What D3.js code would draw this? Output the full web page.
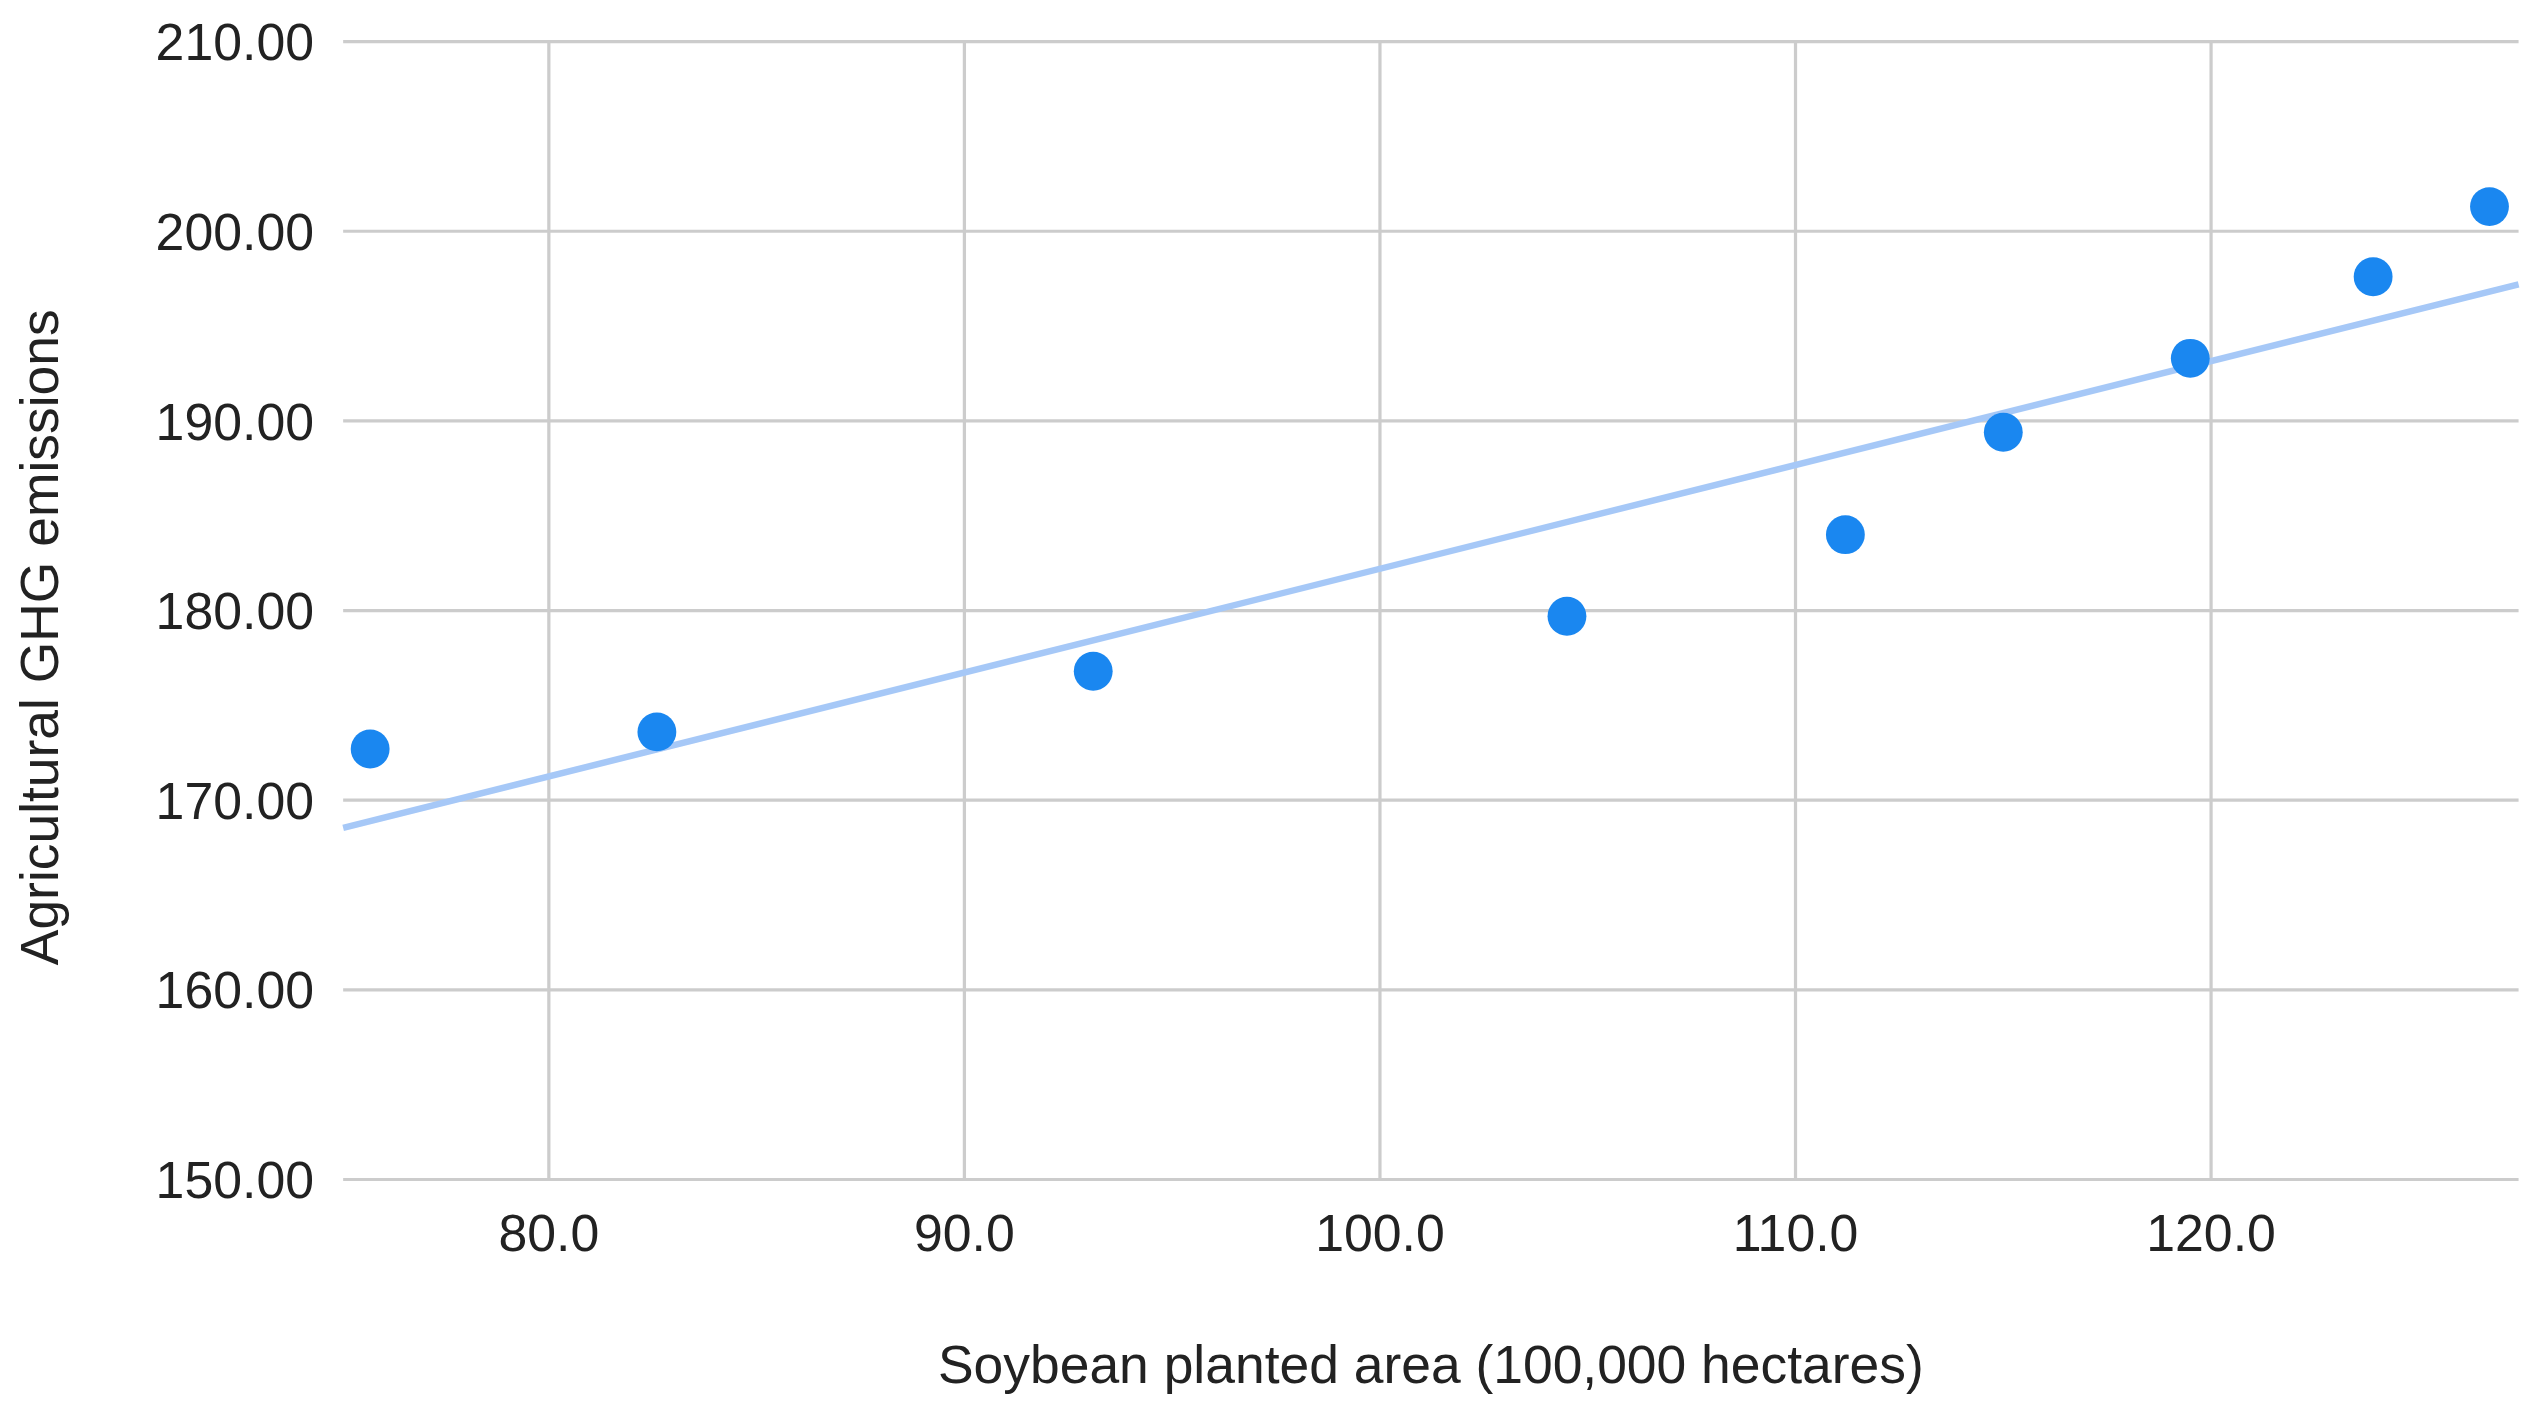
<!DOCTYPE html>
<html><head><meta charset="utf-8">
<script src="https://cdn.jsdelivr.net/npm/d3@7"></script>
<style>body{margin:0;background:#fff}text{font-family:"Liberation Sans",Arial,sans-serif;fill:#222}</style>
</head><body><svg id="chart"></svg>
<script>
// soybean planted area (100,000 ha) vs agricultural GHG emissions
const area = [75.7, 82.6, 93.1, 104.5, 111.2, 115.0, 119.5, 123.9, 126.7];
const emissions = [172.7, 173.6, 176.8, 179.7, 184.0, 189.4, 193.3, 197.6, 201.3];
const xTicks = [80, 90, 100, 110, 120];
const yTicks = [150, 160, 170, 180, 190, 200, 210];

const W = 1568, H = 866;
const margin = { top: 25, right: 12, bottom: 138, left: 212 };

const svg = d3.select("#chart")
  .attr("width", 2538).attr("height", 1404)
  .attr("viewBox", `0 0 ${W} ${H}`);

const x = d3.scaleLinear().domain([75.05, 127.4]).range([margin.left, W - margin.right]);
const y = d3.scaleLinear().domain([150, 210]).range([H - margin.bottom, margin.top]);

// grid
svg.append("g").selectAll("line").data(yTicks).join("line")
  .attr("x1", margin.left).attr("x2", W - margin.right)
  .attr("y1", d => y(d)).attr("y2", d => y(d))
  .attr("stroke", "#ccc").attr("stroke-width", 2);
svg.append("g").selectAll("line").data(xTicks).join("line")
  .attr("x1", d => x(d)).attr("x2", d => x(d))
  .attr("y1", margin.top).attr("y2", H - margin.bottom)
  .attr("stroke", "#ccc").attr("stroke-width", 2);

// tick labels
svg.append("g").selectAll("text").data(yTicks).join("text")
  .attr("x", margin.left - 18).attr("y", d => y(d)).attr("dy", "0.36em")
  .attr("text-anchor", "end").attr("font-size", 32).text(d => d.toFixed(2));
svg.append("g").selectAll("text").data(xTicks).join("text")
  .attr("x", d => x(d)).attr("y", H - margin.bottom + 44)
  .attr("text-anchor", "middle").attr("font-size", 32).text(d => d.toFixed(1));

// least squares trendline
const mx = d3.mean(area), my = d3.mean(emissions);
const slope = d3.sum(area, (a, i) => (a - mx) * (emissions[i] - my)) / d3.sum(area, a => (a - mx) ** 2);
const icpt = my - slope * mx;
const [x0, x1] = x.domain();
svg.append("line")
  .attr("x1", x(x0)).attr("y1", y(icpt + slope * x0))
  .attr("x2", x(x1)).attr("y2", y(icpt + slope * x1))
  .attr("stroke", "#a6c8f7").attr("stroke-width", 4);

// points
svg.append("g").selectAll("circle").data(area).join("circle")
  .attr("cx", d => x(d)).attr("cy", (d, i) => y(emissions[i]))
  .attr("r", 12).attr("fill", "#1a87f0");

// axis titles
svg.append("text").attr("x", 884).attr("y", H - 12)
  .attr("text-anchor", "middle").attr("font-size", 33).text("Soybean planted area (100,000 hectares)");
svg.append("text").attr("transform", `translate(36,393) rotate(-90)`)
  .attr("text-anchor", "middle").attr("font-size", 33).text("Agricultural GHG emissions");
</script></body></html>
